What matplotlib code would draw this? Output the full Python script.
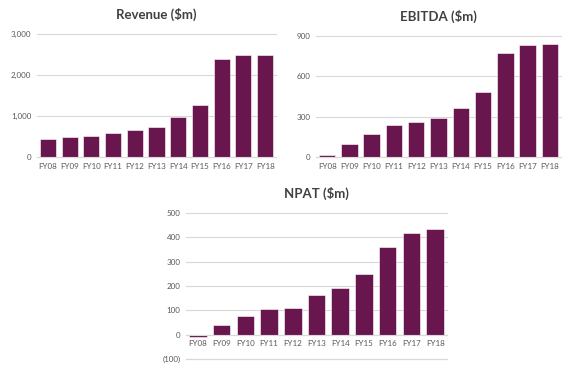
import matplotlib
matplotlib.use("Agg")
import matplotlib.pyplot as plt
from matplotlib.ticker import FuncFormatter

years = ["FY08", "FY09", "FY10", "FY11", "FY12", "FY13", "FY14", "FY15", "FY16", "FY17", "FY18"]
revenue = [440, 488, 512, 577, 659, 732, 967, 1268, 2382, 2480, 2488]
ebitda = [15, 96, 171, 235, 260, 292, 366, 485, 776, 836, 841]
npat = [-8, 40, 77, 105, 110, 163, 193, 248, 362, 419, 434]

bar_color = "#69164f"
grid_color = "#d9d9d9"
tick_color = "#595959"
title_color = "#404040"

plt.rcParams['font.family'] = ['Lato', 'DejaVu Sans']

fig = plt.figure(figsize=(5.78, 3.78), dpi=100)

def fmt(v, pos):
    if v < 0:
        return "({:,.0f})".format(-v)
    return "{:,.0f}".format(v)

def draw(rect, values, title, ylim, yticks):
    ax = fig.add_axes(rect)
    x = list(range(len(years)))
    ax.bar(x, values, width=0.74, color=bar_color, edgecolor="white", linewidth=0.4, zorder=3)
    ax.set_xlim(-0.5, len(years) - 0.5)
    ax.set_ylim(*ylim)
    ax.set_yticks(yticks)
    ax.yaxis.set_major_formatter(FuncFormatter(fmt))
    ax.set_xticks(x)
    ax.set_xticklabels(years)
    ax.grid(axis="y", color=grid_color, linewidth=0.8, zorder=0, clip_on=False)
    for s in ["top", "right", "left"]:
        ax.spines[s].set_visible(False)
    ax.spines["bottom"].set_position(("data", 0))
    ax.spines["bottom"].set_color(grid_color)
    ax.spines["bottom"].set_zorder(4)
    ax.tick_params(axis="both", length=0, labelsize=5.8, colors=tick_color, pad=4)
    ax.set_title(title, fontsize=9.5, fontweight="bold", color=title_color, pad=11)
    return ax

draw([0.064, 0.5847, 0.4135, 0.325], revenue, "Revenue ($m)", (0, 3000), [0, 1000, 2000, 3000])
draw([0.5467, 0.5847, 0.4239, 0.320], ebitda, "EBITDA ($m)", (0, 900), [0, 300, 600, 900])
ax3 = draw([0.3218, 0.0503, 0.4516, 0.3862], npat, "NPAT ($m)", (-100, 500), [-100, 0, 100, 200, 300, 400, 500])
ax3.axhline(-100, color=grid_color, linewidth=0.8, zorder=0, clip_on=False)

fig.savefig("out.png", dpi=100)
